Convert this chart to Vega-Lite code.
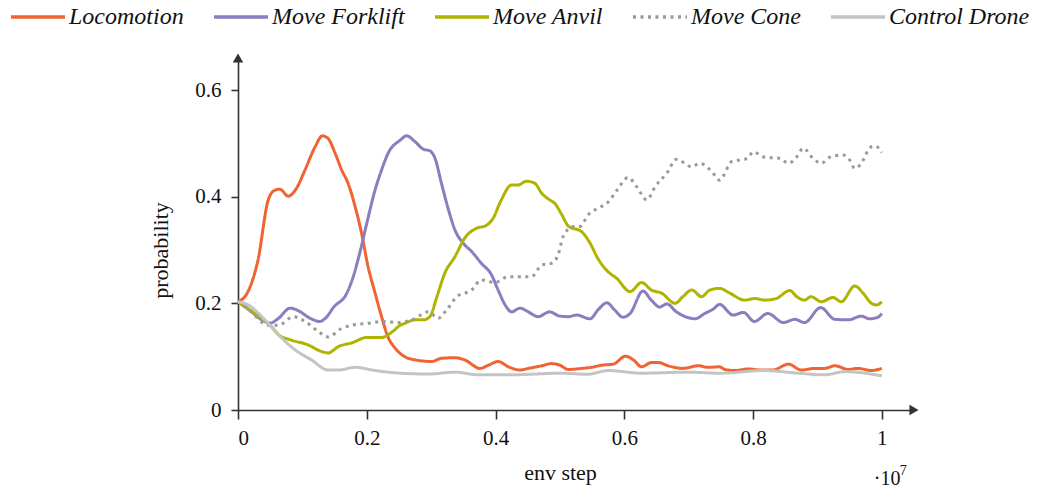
{
  "$schema": "https://vega.github.io/schema/vega-lite/v6.json",
  "autosize": "none",
  "width": 676,
  "height": 352,
  "padding": {"left": 238, "top": 58, "right": 125, "bottom": 82},
  "background": "white",
  "config": {
    "view": {"stroke": null},
    "axis": {
      "grid": false,
      "domainColor": "#333333",
      "domainWidth": 1.6,
      "tickColor": "#333333",
      "tickWidth": 1.6,
      "tickSize": 9,
      "labelFont": "Liberation Serif",
      "labelFontSize": 21,
      "labelColor": "#111111",
      "titleFont": "Liberation Serif",
      "titleFontSize": 22,
      "titleFontWeight": "normal",
      "titleColor": "#111111"
    },
    "legend": {
      "orient": "none",
      "legendX": -229,
      "legendY": -70,
      "direction": "horizontal",
      "symbolType": "stroke",
      "symbolSize": 2916,
      "symbolStrokeWidth": 3.5,
      "labelFont": "Liberation Serif",
      "labelFontStyle": "italic",
      "labelFontSize": 24,
      "labelColor": "#111111",
      "labelOffset": 2,
      "columnPadding": 23,
      "labelLimit": 400
    }
  },
  "datasets": {
    "curves": [
      {"s": "Locomotion", "x": 0, "y": 0.203},
      {"s": "Locomotion", "x": 0.0155, "y": 0.222},
      {"s": "Locomotion", "x": 0.031, "y": 0.281},
      {"s": "Locomotion", "x": 0.047, "y": 0.394},
      {"s": "Locomotion", "x": 0.057, "y": 0.412},
      {"s": "Locomotion", "x": 0.065, "y": 0.414},
      {"s": "Locomotion", "x": 0.078, "y": 0.401},
      {"s": "Locomotion", "x": 0.091, "y": 0.416},
      {"s": "Locomotion", "x": 0.104, "y": 0.45},
      {"s": "Locomotion", "x": 0.12, "y": 0.494},
      {"s": "Locomotion", "x": 0.131, "y": 0.514},
      {"s": "Locomotion", "x": 0.14, "y": 0.509},
      {"s": "Locomotion", "x": 0.151, "y": 0.481},
      {"s": "Locomotion", "x": 0.161, "y": 0.45},
      {"s": "Locomotion", "x": 0.171, "y": 0.425},
      {"s": "Locomotion", "x": 0.182, "y": 0.381},
      {"s": "Locomotion", "x": 0.192, "y": 0.331},
      {"s": "Locomotion", "x": 0.202, "y": 0.269},
      {"s": "Locomotion", "x": 0.213, "y": 0.219},
      {"s": "Locomotion", "x": 0.223, "y": 0.175},
      {"s": "Locomotion", "x": 0.233, "y": 0.137},
      {"s": "Locomotion", "x": 0.244, "y": 0.116},
      {"s": "Locomotion", "x": 0.259, "y": 0.1},
      {"s": "Locomotion", "x": 0.275, "y": 0.094},
      {"s": "Locomotion", "x": 0.301, "y": 0.091},
      {"s": "Locomotion", "x": 0.316, "y": 0.097},
      {"s": "Locomotion", "x": 0.337, "y": 0.098},
      {"s": "Locomotion", "x": 0.352, "y": 0.094},
      {"s": "Locomotion", "x": 0.376, "y": 0.078},
      {"s": "Locomotion", "x": 0.389, "y": 0.084},
      {"s": "Locomotion", "x": 0.404, "y": 0.091},
      {"s": "Locomotion", "x": 0.42, "y": 0.081},
      {"s": "Locomotion", "x": 0.438, "y": 0.075},
      {"s": "Locomotion", "x": 0.451, "y": 0.078},
      {"s": "Locomotion", "x": 0.472, "y": 0.083},
      {"s": "Locomotion", "x": 0.487, "y": 0.087},
      {"s": "Locomotion", "x": 0.5, "y": 0.084},
      {"s": "Locomotion", "x": 0.513, "y": 0.076},
      {"s": "Locomotion", "x": 0.534, "y": 0.078},
      {"s": "Locomotion", "x": 0.549, "y": 0.08},
      {"s": "Locomotion", "x": 0.565, "y": 0.084},
      {"s": "Locomotion", "x": 0.583, "y": 0.086},
      {"s": "Locomotion", "x": 0.602, "y": 0.101},
      {"s": "Locomotion", "x": 0.614, "y": 0.094},
      {"s": "Locomotion", "x": 0.627, "y": 0.081},
      {"s": "Locomotion", "x": 0.642, "y": 0.089},
      {"s": "Locomotion", "x": 0.653, "y": 0.089},
      {"s": "Locomotion", "x": 0.668, "y": 0.083},
      {"s": "Locomotion", "x": 0.691, "y": 0.078},
      {"s": "Locomotion", "x": 0.715, "y": 0.083},
      {"s": "Locomotion", "x": 0.73, "y": 0.08},
      {"s": "Locomotion", "x": 0.748, "y": 0.081},
      {"s": "Locomotion", "x": 0.756, "y": 0.076},
      {"s": "Locomotion", "x": 0.772, "y": 0.074},
      {"s": "Locomotion", "x": 0.792, "y": 0.077},
      {"s": "Locomotion", "x": 0.813, "y": 0.075},
      {"s": "Locomotion", "x": 0.831, "y": 0.075},
      {"s": "Locomotion", "x": 0.855, "y": 0.086},
      {"s": "Locomotion", "x": 0.875, "y": 0.075},
      {"s": "Locomotion", "x": 0.896, "y": 0.078},
      {"s": "Locomotion", "x": 0.911, "y": 0.078},
      {"s": "Locomotion", "x": 0.927, "y": 0.083},
      {"s": "Locomotion", "x": 0.948, "y": 0.076},
      {"s": "Locomotion", "x": 0.963, "y": 0.078},
      {"s": "Locomotion", "x": 0.984, "y": 0.074},
      {"s": "Locomotion", "x": 1.0, "y": 0.078},

      {"s": "Move Forklift", "x": 0, "y": 0.203},
      {"s": "Move Forklift", "x": 0.021, "y": 0.184},
      {"s": "Move Forklift", "x": 0.037, "y": 0.169},
      {"s": "Move Forklift", "x": 0.05, "y": 0.163},
      {"s": "Move Forklift", "x": 0.063, "y": 0.172},
      {"s": "Move Forklift", "x": 0.081, "y": 0.191},
      {"s": "Move Forklift", "x": 0.094, "y": 0.186},
      {"s": "Move Forklift", "x": 0.112, "y": 0.172},
      {"s": "Move Forklift", "x": 0.127, "y": 0.166},
      {"s": "Move Forklift", "x": 0.138, "y": 0.175},
      {"s": "Move Forklift", "x": 0.148, "y": 0.192},
      {"s": "Move Forklift", "x": 0.169, "y": 0.219},
      {"s": "Move Forklift", "x": 0.179, "y": 0.25},
      {"s": "Move Forklift", "x": 0.189, "y": 0.294},
      {"s": "Move Forklift", "x": 0.2, "y": 0.35},
      {"s": "Move Forklift", "x": 0.213, "y": 0.413},
      {"s": "Move Forklift", "x": 0.223, "y": 0.45},
      {"s": "Move Forklift", "x": 0.233, "y": 0.481},
      {"s": "Move Forklift", "x": 0.252, "y": 0.506},
      {"s": "Move Forklift", "x": 0.262, "y": 0.514},
      {"s": "Move Forklift", "x": 0.275, "y": 0.503},
      {"s": "Move Forklift", "x": 0.288, "y": 0.489},
      {"s": "Move Forklift", "x": 0.298, "y": 0.486},
      {"s": "Move Forklift", "x": 0.306, "y": 0.472},
      {"s": "Move Forklift", "x": 0.316, "y": 0.425},
      {"s": "Move Forklift", "x": 0.327, "y": 0.375},
      {"s": "Move Forklift", "x": 0.337, "y": 0.3375},
      {"s": "Move Forklift", "x": 0.35, "y": 0.3125},
      {"s": "Move Forklift", "x": 0.363, "y": 0.297},
      {"s": "Move Forklift", "x": 0.378, "y": 0.275},
      {"s": "Move Forklift", "x": 0.394, "y": 0.253},
      {"s": "Move Forklift", "x": 0.404, "y": 0.225},
      {"s": "Move Forklift", "x": 0.415, "y": 0.197},
      {"s": "Move Forklift", "x": 0.425, "y": 0.184},
      {"s": "Move Forklift", "x": 0.438, "y": 0.191},
      {"s": "Move Forklift", "x": 0.451, "y": 0.184},
      {"s": "Move Forklift", "x": 0.466, "y": 0.175},
      {"s": "Move Forklift", "x": 0.484, "y": 0.184},
      {"s": "Move Forklift", "x": 0.5, "y": 0.176},
      {"s": "Move Forklift", "x": 0.513, "y": 0.175},
      {"s": "Move Forklift", "x": 0.526, "y": 0.178},
      {"s": "Move Forklift", "x": 0.547, "y": 0.171},
      {"s": "Move Forklift", "x": 0.559, "y": 0.1875},
      {"s": "Move Forklift", "x": 0.573, "y": 0.201},
      {"s": "Move Forklift", "x": 0.585, "y": 0.1875},
      {"s": "Move Forklift", "x": 0.598, "y": 0.174},
      {"s": "Move Forklift", "x": 0.609, "y": 0.181},
      {"s": "Move Forklift", "x": 0.629, "y": 0.223},
      {"s": "Move Forklift", "x": 0.642, "y": 0.206},
      {"s": "Move Forklift", "x": 0.655, "y": 0.193},
      {"s": "Move Forklift", "x": 0.666, "y": 0.199},
      {"s": "Move Forklift", "x": 0.681, "y": 0.184},
      {"s": "Move Forklift", "x": 0.697, "y": 0.174},
      {"s": "Move Forklift", "x": 0.71, "y": 0.171},
      {"s": "Move Forklift", "x": 0.725, "y": 0.181},
      {"s": "Move Forklift", "x": 0.738, "y": 0.189},
      {"s": "Move Forklift", "x": 0.748, "y": 0.198},
      {"s": "Move Forklift", "x": 0.769, "y": 0.178},
      {"s": "Move Forklift", "x": 0.785, "y": 0.183},
      {"s": "Move Forklift", "x": 0.802, "y": 0.166},
      {"s": "Move Forklift", "x": 0.823, "y": 0.181},
      {"s": "Move Forklift", "x": 0.847, "y": 0.164},
      {"s": "Move Forklift", "x": 0.865, "y": 0.17},
      {"s": "Move Forklift", "x": 0.88, "y": 0.164},
      {"s": "Move Forklift", "x": 0.905, "y": 0.192},
      {"s": "Move Forklift", "x": 0.927, "y": 0.17},
      {"s": "Move Forklift", "x": 0.948, "y": 0.169},
      {"s": "Move Forklift", "x": 0.968, "y": 0.176},
      {"s": "Move Forklift", "x": 0.981, "y": 0.171},
      {"s": "Move Forklift", "x": 0.994, "y": 0.174},
      {"s": "Move Forklift", "x": 1.0, "y": 0.181},

      {"s": "Move Anvil", "x": 0, "y": 0.203},
      {"s": "Move Anvil", "x": 0.026, "y": 0.181},
      {"s": "Move Anvil", "x": 0.052, "y": 0.156},
      {"s": "Move Anvil", "x": 0.063, "y": 0.141},
      {"s": "Move Anvil", "x": 0.083, "y": 0.131},
      {"s": "Move Anvil", "x": 0.109, "y": 0.122},
      {"s": "Move Anvil", "x": 0.127, "y": 0.111},
      {"s": "Move Anvil", "x": 0.14, "y": 0.107},
      {"s": "Move Anvil", "x": 0.156, "y": 0.119},
      {"s": "Move Anvil", "x": 0.177, "y": 0.126},
      {"s": "Move Anvil", "x": 0.2, "y": 0.136},
      {"s": "Move Anvil", "x": 0.223, "y": 0.136},
      {"s": "Move Anvil", "x": 0.239, "y": 0.146},
      {"s": "Move Anvil", "x": 0.252, "y": 0.159},
      {"s": "Move Anvil", "x": 0.259, "y": 0.1625},
      {"s": "Move Anvil", "x": 0.275, "y": 0.169},
      {"s": "Move Anvil", "x": 0.288, "y": 0.169},
      {"s": "Move Anvil", "x": 0.298, "y": 0.175},
      {"s": "Move Anvil", "x": 0.309, "y": 0.2125},
      {"s": "Move Anvil", "x": 0.321, "y": 0.256},
      {"s": "Move Anvil", "x": 0.337, "y": 0.2875},
      {"s": "Move Anvil", "x": 0.352, "y": 0.322},
      {"s": "Move Anvil", "x": 0.371, "y": 0.341},
      {"s": "Move Anvil", "x": 0.384, "y": 0.345},
      {"s": "Move Anvil", "x": 0.396, "y": 0.359},
      {"s": "Move Anvil", "x": 0.409, "y": 0.394},
      {"s": "Move Anvil", "x": 0.425, "y": 0.422},
      {"s": "Move Anvil", "x": 0.435, "y": 0.422},
      {"s": "Move Anvil", "x": 0.448, "y": 0.429},
      {"s": "Move Anvil", "x": 0.461, "y": 0.425},
      {"s": "Move Anvil", "x": 0.472, "y": 0.406},
      {"s": "Move Anvil", "x": 0.484, "y": 0.394},
      {"s": "Move Anvil", "x": 0.492, "y": 0.3875},
      {"s": "Move Anvil", "x": 0.503, "y": 0.366},
      {"s": "Move Anvil", "x": 0.513, "y": 0.345},
      {"s": "Move Anvil", "x": 0.534, "y": 0.334},
      {"s": "Move Anvil", "x": 0.547, "y": 0.3125},
      {"s": "Move Anvil", "x": 0.559, "y": 0.284},
      {"s": "Move Anvil", "x": 0.575, "y": 0.259},
      {"s": "Move Anvil", "x": 0.588, "y": 0.247},
      {"s": "Move Anvil", "x": 0.609, "y": 0.222},
      {"s": "Move Anvil", "x": 0.627, "y": 0.239},
      {"s": "Move Anvil", "x": 0.642, "y": 0.225},
      {"s": "Move Anvil", "x": 0.658, "y": 0.219},
      {"s": "Move Anvil", "x": 0.679, "y": 0.2},
      {"s": "Move Anvil", "x": 0.691, "y": 0.2125},
      {"s": "Move Anvil", "x": 0.705, "y": 0.225},
      {"s": "Move Anvil", "x": 0.72, "y": 0.2125},
      {"s": "Move Anvil", "x": 0.733, "y": 0.225},
      {"s": "Move Anvil", "x": 0.748, "y": 0.228},
      {"s": "Move Anvil", "x": 0.764, "y": 0.219},
      {"s": "Move Anvil", "x": 0.787, "y": 0.206},
      {"s": "Move Anvil", "x": 0.803, "y": 0.209},
      {"s": "Move Anvil", "x": 0.818, "y": 0.206},
      {"s": "Move Anvil", "x": 0.836, "y": 0.209},
      {"s": "Move Anvil", "x": 0.857, "y": 0.224},
      {"s": "Move Anvil", "x": 0.868, "y": 0.2125},
      {"s": "Move Anvil", "x": 0.88, "y": 0.206},
      {"s": "Move Anvil", "x": 0.89, "y": 0.2125},
      {"s": "Move Anvil", "x": 0.906, "y": 0.203},
      {"s": "Move Anvil", "x": 0.924, "y": 0.211},
      {"s": "Move Anvil", "x": 0.937, "y": 0.203},
      {"s": "Move Anvil", "x": 0.958, "y": 0.2325},
      {"s": "Move Anvil", "x": 0.971, "y": 0.219},
      {"s": "Move Anvil", "x": 0.984, "y": 0.2},
      {"s": "Move Anvil", "x": 0.992, "y": 0.197},
      {"s": "Move Anvil", "x": 1.0, "y": 0.203},

      {"s": "Move Cone", "x": 0, "y": 0.203},
      {"s": "Move Cone", "x": 0.0155, "y": 0.19},
      {"s": "Move Cone", "x": 0.047, "y": 0.159},
      {"s": "Move Cone", "x": 0.063, "y": 0.159},
      {"s": "Move Cone", "x": 0.086, "y": 0.175},
      {"s": "Move Cone", "x": 0.104, "y": 0.166},
      {"s": "Move Cone", "x": 0.125, "y": 0.147},
      {"s": "Move Cone", "x": 0.14, "y": 0.137},
      {"s": "Move Cone", "x": 0.161, "y": 0.153},
      {"s": "Move Cone", "x": 0.177, "y": 0.159},
      {"s": "Move Cone", "x": 0.202, "y": 0.1625},
      {"s": "Move Cone", "x": 0.226, "y": 0.166},
      {"s": "Move Cone", "x": 0.249, "y": 0.164},
      {"s": "Move Cone", "x": 0.27, "y": 0.169},
      {"s": "Move Cone", "x": 0.296, "y": 0.184},
      {"s": "Move Cone", "x": 0.311, "y": 0.172},
      {"s": "Move Cone", "x": 0.324, "y": 0.1875},
      {"s": "Move Cone", "x": 0.34, "y": 0.2125},
      {"s": "Move Cone", "x": 0.363, "y": 0.225},
      {"s": "Move Cone", "x": 0.378, "y": 0.244},
      {"s": "Move Cone", "x": 0.399, "y": 0.239},
      {"s": "Move Cone", "x": 0.42, "y": 0.25},
      {"s": "Move Cone", "x": 0.441, "y": 0.25},
      {"s": "Move Cone", "x": 0.456, "y": 0.25},
      {"s": "Move Cone", "x": 0.472, "y": 0.272},
      {"s": "Move Cone", "x": 0.487, "y": 0.275},
      {"s": "Move Cone", "x": 0.497, "y": 0.29},
      {"s": "Move Cone", "x": 0.505, "y": 0.325},
      {"s": "Move Cone", "x": 0.521, "y": 0.344},
      {"s": "Move Cone", "x": 0.531, "y": 0.344},
      {"s": "Move Cone", "x": 0.544, "y": 0.366},
      {"s": "Move Cone", "x": 0.562, "y": 0.38},
      {"s": "Move Cone", "x": 0.573, "y": 0.3875},
      {"s": "Move Cone", "x": 0.588, "y": 0.411},
      {"s": "Move Cone", "x": 0.606, "y": 0.436},
      {"s": "Move Cone", "x": 0.619, "y": 0.419},
      {"s": "Move Cone", "x": 0.635, "y": 0.394},
      {"s": "Move Cone", "x": 0.648, "y": 0.419},
      {"s": "Move Cone", "x": 0.666, "y": 0.444},
      {"s": "Move Cone", "x": 0.681, "y": 0.47},
      {"s": "Move Cone", "x": 0.705, "y": 0.456},
      {"s": "Move Cone", "x": 0.717, "y": 0.4625},
      {"s": "Move Cone", "x": 0.736, "y": 0.447},
      {"s": "Move Cone", "x": 0.748, "y": 0.431},
      {"s": "Move Cone", "x": 0.767, "y": 0.466},
      {"s": "Move Cone", "x": 0.78, "y": 0.469},
      {"s": "Move Cone", "x": 0.792, "y": 0.472},
      {"s": "Move Cone", "x": 0.8, "y": 0.484},
      {"s": "Move Cone", "x": 0.818, "y": 0.474},
      {"s": "Move Cone", "x": 0.842, "y": 0.472},
      {"s": "Move Cone", "x": 0.855, "y": 0.4625},
      {"s": "Move Cone", "x": 0.868, "y": 0.475},
      {"s": "Move Cone", "x": 0.878, "y": 0.491},
      {"s": "Move Cone", "x": 0.893, "y": 0.472},
      {"s": "Move Cone", "x": 0.906, "y": 0.4625},
      {"s": "Move Cone", "x": 0.919, "y": 0.474},
      {"s": "Move Cone", "x": 0.94, "y": 0.478},
      {"s": "Move Cone", "x": 0.95, "y": 0.469},
      {"s": "Move Cone", "x": 0.958, "y": 0.453},
      {"s": "Move Cone", "x": 0.974, "y": 0.475},
      {"s": "Move Cone", "x": 0.98, "y": 0.491},
      {"s": "Move Cone", "x": 0.99, "y": 0.495},
      {"s": "Move Cone", "x": 1.0, "y": 0.4825},

      {"s": "Control Drone", "x": 0, "y": 0.203},
      {"s": "Control Drone", "x": 0.016, "y": 0.197},
      {"s": "Control Drone", "x": 0.032, "y": 0.181},
      {"s": "Control Drone", "x": 0.047, "y": 0.1625},
      {"s": "Control Drone", "x": 0.063, "y": 0.141},
      {"s": "Control Drone", "x": 0.089, "y": 0.1125},
      {"s": "Control Drone", "x": 0.114, "y": 0.094},
      {"s": "Control Drone", "x": 0.14, "y": 0.075},
      {"s": "Control Drone", "x": 0.156, "y": 0.075},
      {"s": "Control Drone", "x": 0.182, "y": 0.08},
      {"s": "Control Drone", "x": 0.213, "y": 0.074},
      {"s": "Control Drone", "x": 0.252, "y": 0.069},
      {"s": "Control Drone", "x": 0.296, "y": 0.0675},
      {"s": "Control Drone", "x": 0.337, "y": 0.071},
      {"s": "Control Drone", "x": 0.373, "y": 0.066},
      {"s": "Control Drone", "x": 0.425, "y": 0.066},
      {"s": "Control Drone", "x": 0.5, "y": 0.069},
      {"s": "Control Drone", "x": 0.543, "y": 0.067},
      {"s": "Control Drone", "x": 0.575, "y": 0.074},
      {"s": "Control Drone", "x": 0.627, "y": 0.069},
      {"s": "Control Drone", "x": 0.699, "y": 0.071},
      {"s": "Control Drone", "x": 0.748, "y": 0.069},
      {"s": "Control Drone", "x": 0.818, "y": 0.074},
      {"s": "Control Drone", "x": 0.87, "y": 0.069},
      {"s": "Control Drone", "x": 0.911, "y": 0.066},
      {"s": "Control Drone", "x": 0.943, "y": 0.072},
      {"s": "Control Drone", "x": 1.0, "y": 0.064}
    ],
    "arrows": [
      {"ax": 1.05, "ay": 0, "shape": "triangle-right"},
      {"ax": 0, "ay": 0.66, "shape": "triangle-up"}
    ],
    "exponent": [
      {"ex": 1.0, "ey": 0, "t": "·10"}
    ],
    "exponentPower": [
      {"ex": 1.0, "ey": 0, "t": "7"}
    ]
  },
  "layer": [
    {
      "data": {"name": "curves"},
      "mark": {"type": "line", "strokeWidth": 3, "interpolate": "monotone", "strokeCap": "butt"},
      "encoding": {
        "x": {
          "field": "x", "type": "quantitative",
          "scale": {"domain": [0, 1.05], "nice": false, "zero": false},
          "axis": {
            "values": [0, 0.2, 0.4, 0.6, 0.8, 1],
            "format": "~g",
            "title": "env step",
            "titleX": 322,
            "titlePadding": 14,
            "labelPadding": 8
          }
        },
        "y": {
          "field": "y", "type": "quantitative",
          "scale": {"domain": [0, 0.66], "nice": false},
          "axis": {
            "values": [0, 0.2, 0.4, 0.6],
            "format": "~g",
            "title": "probability",
            "titleX": -78,
            "titleY": 192,
            "titleAlign": "center",
            "titleBaseline": "middle",
            "labelPadding": 10,
            "tickSize": 7
          }
        },
        "color": {
          "field": "s", "type": "nominal",
          "scale": {
            "domain": ["Locomotion", "Move Forklift", "Move Anvil", "Move Cone", "Control Drone"],
            "range": ["#f06434", "#8c7cc0", "#b0b400", "#9a9a9a", "#c4c4c4"]
          },
          "legend": {"title": null}
        },
        "strokeDash": {
          "field": "s", "type": "nominal",
          "scale": {
            "domain": ["Locomotion", "Move Forklift", "Move Anvil", "Move Cone", "Control Drone"],
            "range": [[1, 0], [1, 0], [1, 0], [3, 4.5], [1, 0]]
          },
          "legend": {"title": null}
        },
        "order": {"field": "x", "type": "quantitative"}
      }
    },
    {
      "data": {"name": "arrows"},
      "mark": {"type": "point", "filled": true, "color": "#333333", "size": 110, "opacity": 1},
      "encoding": {
        "x": {"field": "ax", "type": "quantitative"},
        "y": {"field": "ay", "type": "quantitative"},
        "shape": {"field": "shape", "type": "nominal", "scale": null, "legend": null}
      }
    },
    {
      "data": {"name": "exponent"},
      "mark": {"type": "text", "font": "Liberation Serif", "fontSize": 20, "color": "#111111", "align": "left", "baseline": "middle", "dx": -8, "dy": 69},
      "encoding": {
        "x": {"field": "ex", "type": "quantitative"},
        "y": {"field": "ey", "type": "quantitative"},
        "text": {"field": "t"}
      }
    },
    {
      "data": {"name": "exponentPower"},
      "mark": {"type": "text", "font": "Liberation Serif", "fontSize": 14, "color": "#111111", "align": "left", "baseline": "middle", "dx": 18, "dy": 61},
      "encoding": {
        "x": {"field": "ex", "type": "quantitative"},
        "y": {"field": "ey", "type": "quantitative"},
        "text": {"field": "t"}
      }
    }
  ]
}
